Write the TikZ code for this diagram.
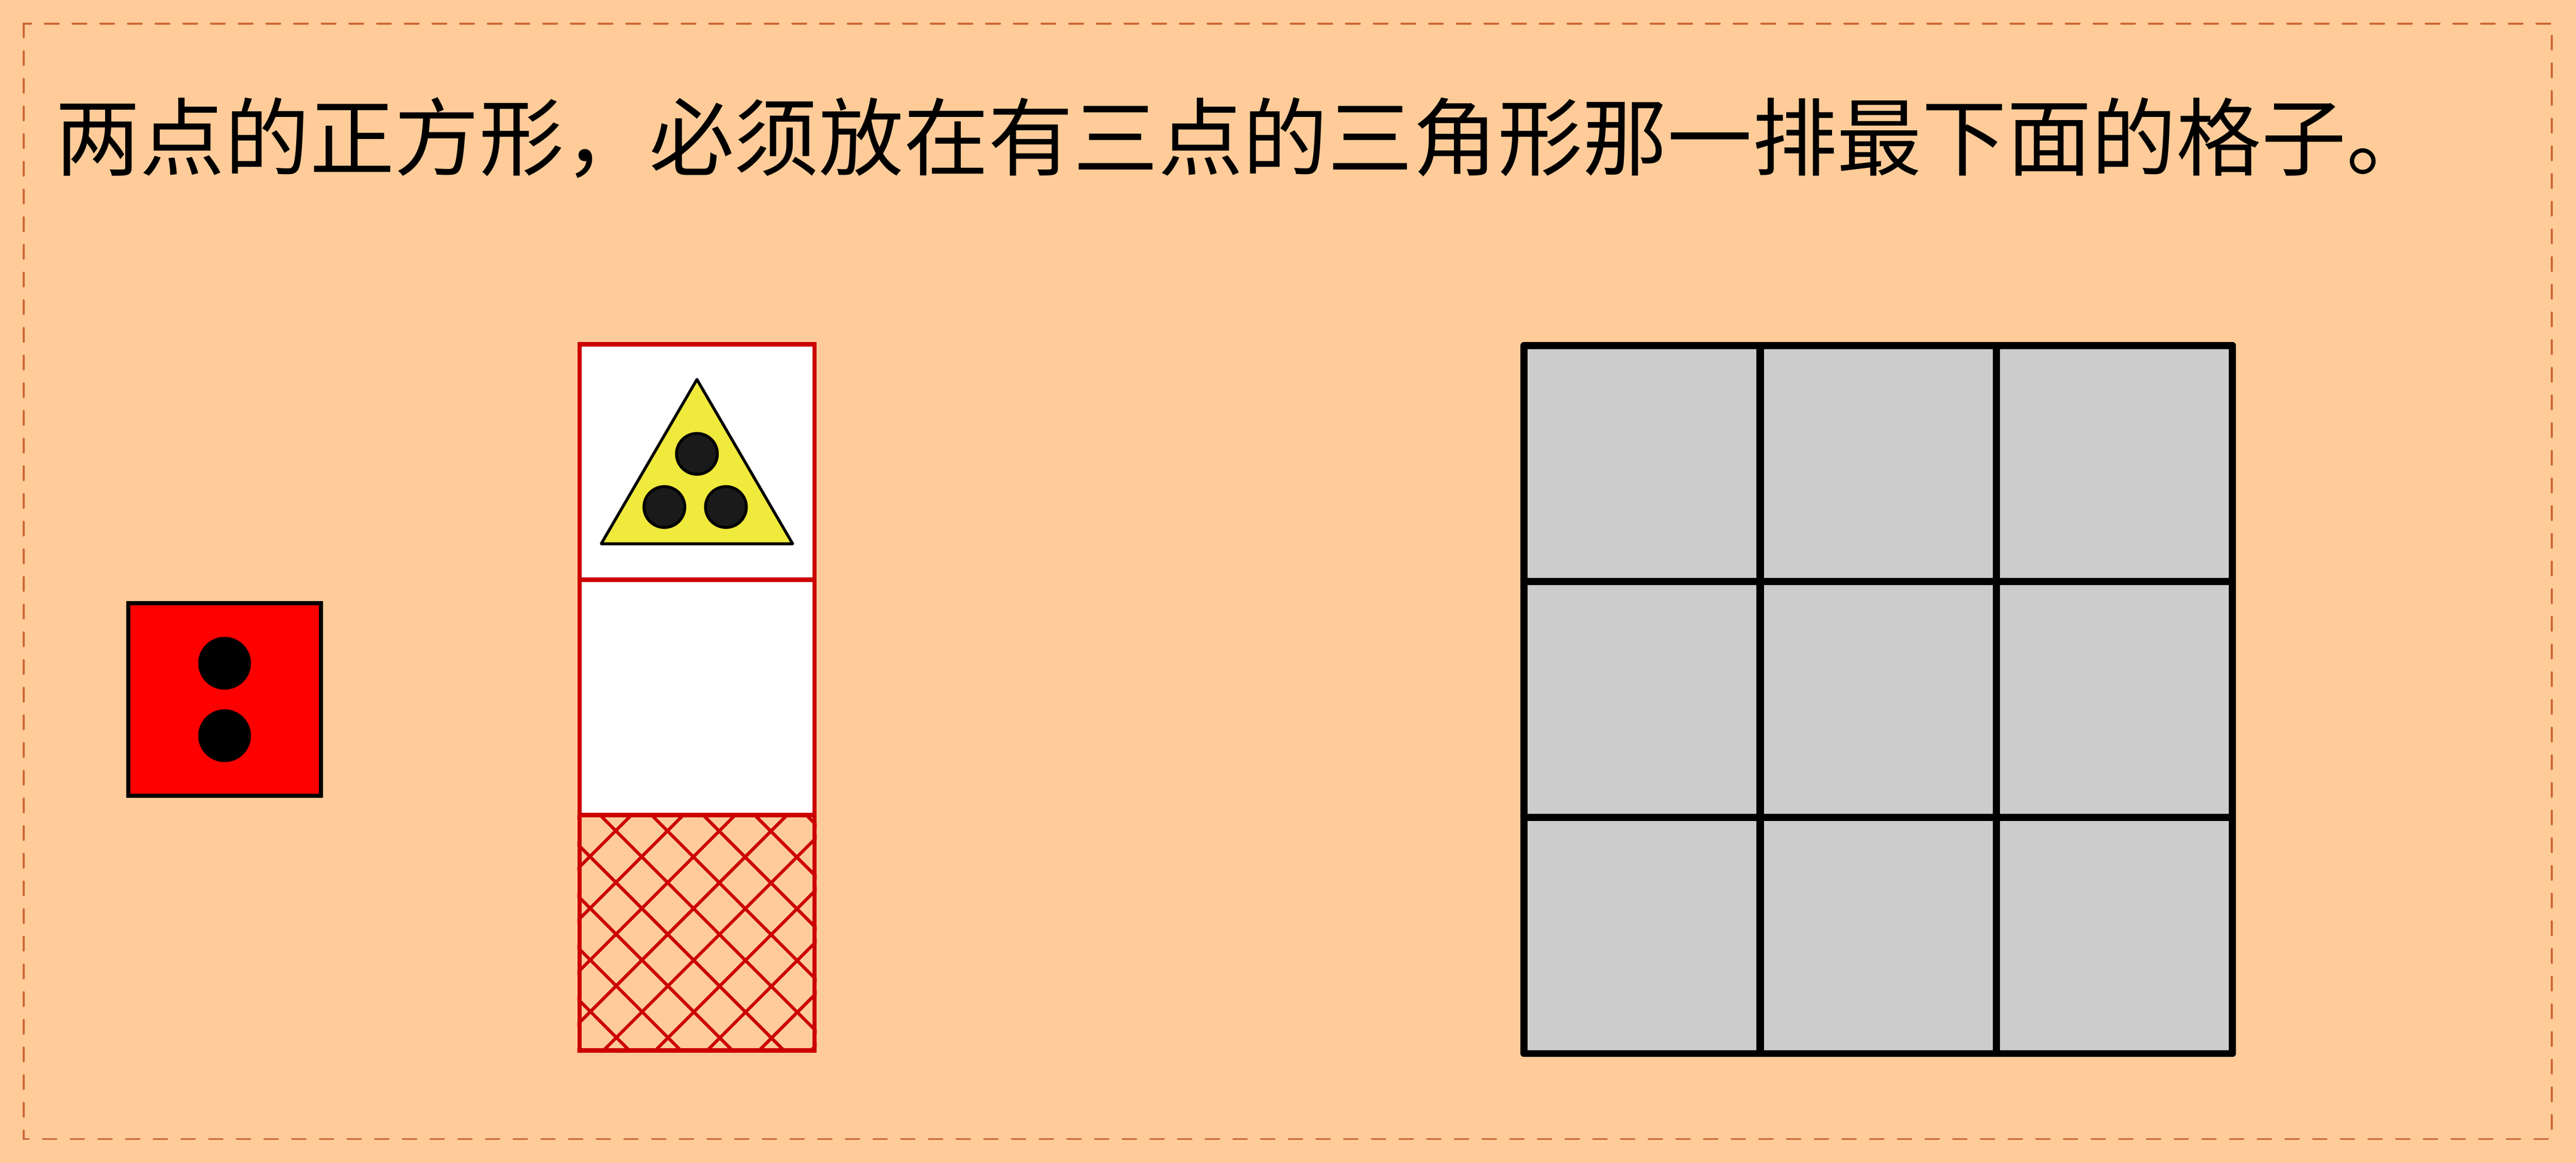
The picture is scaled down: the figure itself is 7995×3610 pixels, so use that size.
\documentclass[tikz,border=0pt]{standalone}
\usepackage{fontspec}
\newfontfamily\cjk{Noto Sans CJK SC}
\usepackage{xcolor}
\usepackage{tikz}
\usetikzlibrary{calc}

\definecolor{peach}{HTML}{FFCC99}
\definecolor{frameorange}{HTML}{CC6633}
\definecolor{colred}{HTML}{CC0000}
\definecolor{gridgray}{HTML}{CCCCCC}
\definecolor{triyellow}{HTML}{F0EA3C}
\definecolor{darkdot}{HTML}{1A1A1A}

\begin{document}
\begin{tikzpicture}[x=0.005cm, y=-0.005cm,
  frame/.style={draw=frameorange, line width=0.03cm, dash pattern=on 0.215cm off 0.215cm, line cap=round},
  caption/.style={anchor=base west, inner sep=0, font=\cjk\fontsize{37.5}{45}\selectfont},
  domino/.style={rectangle, draw=black, fill=red, line width=0.065cm, minimum size=2.995cm, inner sep=0},
  dot/.style={circle, draw=black, fill=black, line width=0.05cm, minimum size=0.77cm, inner sep=0},
  cellbox/.style={rectangle, draw=colred, line width=0.065cm, minimum size=3.655cm, inner sep=0},
  hatch/.style={colred, line width=0.05cm},
  tri/.style={draw=black, fill=triyellow, line width=0.045cm, line join=round},
  tridot/.style={circle, draw=black, fill=darkdot, line width=0.045cm, minimum size=0.635cm, inner sep=0},
  gridcell/.style={rectangle, draw=black, fill=gridgray, line width=0.11cm, line join=round, minimum size=3.665cm, inner sep=0}]

% Background and frame
\fill[peach] (0,0) rectangle (7995,3610);
\draw[frame] (73,73) rectangle (7920,3536);

% Caption
\node[caption] (caption) at (170,526) {两点的正方形，必须放在有三点的三角形那一排最下面的格子。};

% Square with two dots
\node[domino] (domino) at (697,2171) {};
\foreach \m [count=\y] in {2059,2284}
  \node[dot] (domino-dot-\y) at (697,\m) {};

% Column of three cells
\foreach \m/\f [count=\y] in {1434/white,2165/white,2896/none}
  \node[cellbox, fill=\f] (cell-\y) at (2163.5,\m) {};

% Crosshatch in the bottom cell
\begin{scope}
  \clip (cell-3.south west) rectangle (cell-3.north east);
  \foreach \k in {-1,...,8} {
    \draw[hatch] (1700,1700+188+160*\k) -- (2700,2700+188+160*\k);
    \draw[hatch] (1700,4490+161*\k-1700) -- (2700,4490+161*\k-2700);
  }
\end{scope}

% Triangle with three dots
\draw[tri] (2163,1178) -- (2460,1688) -- (1866,1688) -- cycle;
\foreach \a/\b [count=\y] in {2163/1409,2062/1574,2253/1574}
  \node[tridot] (tri-dot-\y) at (\a,\b) {};

% Grid 3x3
\foreach \r in {1,2,3}
  \foreach \c in {1,2,3}
    \node[gridcell] (grid-\r-\c) at ({4730+733*(\c-0.5)},{1072+733*(\r-0.5)}) {};
\end{tikzpicture}
\end{document}
